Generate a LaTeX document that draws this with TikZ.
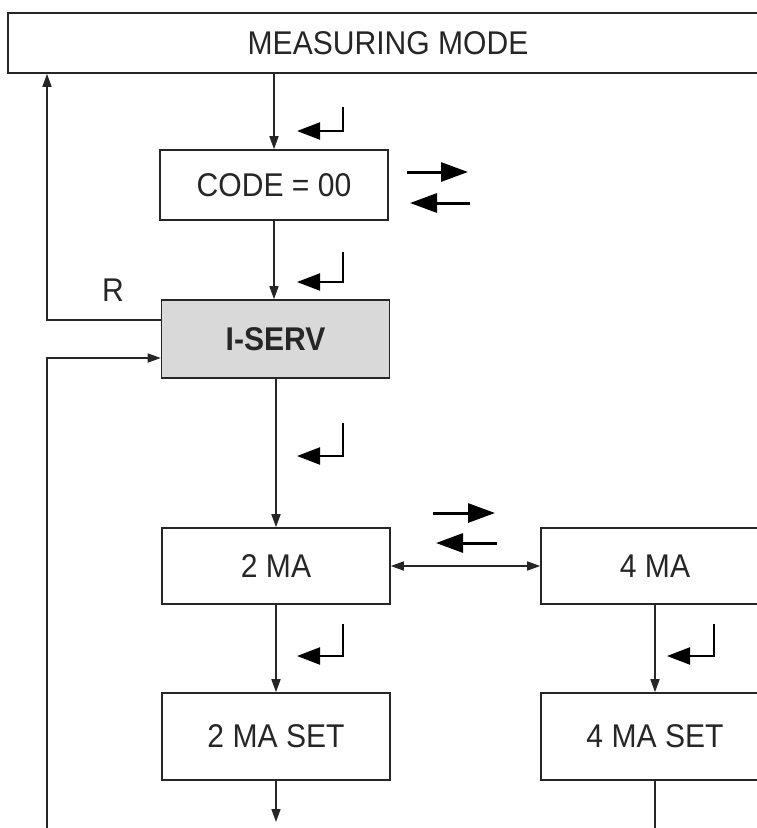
\documentclass[tikz,border=0pt]{standalone}
\usepackage{fontspec}
\setmainfont{Liberation Sans}
\usetikzlibrary{arrows.meta}
\newcommand{\txt}[1]{\scalebox{0.97}[1.06]{#1}}
\tikzset{
  box/.style={draw=black!85, line width=1.6pt, minimum width=228pt, inner sep=0pt, text=black!85, font=\fontsize{31}{36}\selectfont},
  conn/.style={draw=black!85, line width=1.6pt, -{Triangle[length=13pt,width=9pt]}},
  plain/.style={draw=black!85, line width=1.6pt},
  enterkey/.style={line width=2.2pt, -{Triangle[length=23pt,width=17pt]}},
  swapkey/.style={line width=3pt, -{Triangle[length=27pt,width=19pt]}},
}
\begin{document}
\begin{tikzpicture}[x=1pt,y=-1pt]
\useasboundingbox (0,0) rectangle (756,828);
\fill[white] (0,0) rectangle (756,828);

% nodes
\node[box, minimum width=760pt, minimum height=60pt] (mm) at (388,43) {\txt{MEASURING MODE}};
\node[box, minimum height=70pt] (code) at (274,185) {\txt{CODE = 00}};
\node[box, minimum height=78pt, fill=black!15, font=\fontsize{31}{36}\selectfont\bfseries] (iserv) at (275.5,339) {\txt{I-SERV}};
\node[box, minimum height=76pt] (ma2) at (276,566) {\txt{2 MA}};
\node[box, minimum height=76pt] (ma4) at (655,566) {\txt{4 MA}};
\node[box, minimum height=87pt] (ma2set) at (276,736.5) {\txt{2 MA SET}};
\node[box, minimum height=87pt] (ma4set) at (655,736.5) {\txt{4 MA SET}};
\node[text=black!85, font=\fontsize{31}{36}\selectfont] (r) at (113,290) {\txt{R}};

% connectors
\draw[conn] (code.north |- mm.south) -- (code.north);
\draw[conn] (code.south) -- (iserv.north -| code.south);
\draw[conn] (iserv.south -| ma2.north) -- (ma2.north);
\draw[conn] (ma2.south) -- (ma2set.north);
\draw[conn] (ma4.south) -- (ma4set.north);
\draw[draw=black!85, line width=1.6pt, {Triangle[length=13pt,width=9pt]}-{Triangle[length=13pt,width=9pt]}] (ma2.east) -- (ma4.west);

\coordinate (rl) at (47,320);
\draw[conn] ([yshift=19pt]iserv.west) -- (rl) -- (rl |- mm.south);
\coordinate (bl) at (47,830);
\draw[conn] (bl) |- ([yshift=-19pt]iserv.west);

\coordinate (e2) at (276,822);
\draw[conn] (ma2set.south) -- (e2);
\coordinate (e4) at (655,830);
\draw[plain] (ma4set.south) -- (e4);

% enter keys
\draw[enterkey] (343,107) |- (297,131);
\draw[enterkey] (343,252) |- (297,282);
\draw[enterkey] (343,423) |- (297,456);
\draw[enterkey] (343,624) |- (297,656);
\draw[enterkey] (714,624) |- (667,656);

% swap keys
\draw[swapkey] (407,172) -- (468,172);
\draw[swapkey] (470,203) -- (410,203);
\draw[swapkey] (433,513) -- (495,513);
\draw[swapkey] (497,543) -- (436,543);
\end{tikzpicture}
\end{document}
